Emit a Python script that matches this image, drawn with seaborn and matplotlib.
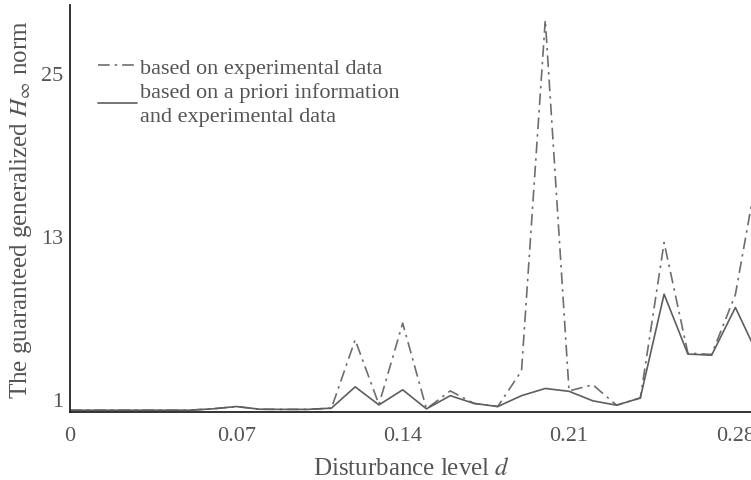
import numpy as np
import pandas as pd
import matplotlib
matplotlib.use("Agg")
import matplotlib.pyplot as plt
import seaborn as sns

# ---- data ----
d_levels = [0.00, 0.01, 0.02, 0.03, 0.04, 0.05, 0.06, 0.07, 0.08, 0.09,
            0.10, 0.11, 0.12, 0.13, 0.14, 0.15, 0.16, 0.17, 0.18, 0.19,
            0.20, 0.21, 0.22, 0.23, 0.24, 0.25, 0.26, 0.27, 0.28, 0.29]
norm_experimental = [0.18, 0.18, 0.18, 0.18, 0.18, 0.18, 0.28, 0.45, 0.25, 0.24,
                     0.24, 0.33, 5.36, 0.60, 6.59, 0.28, 1.60, 0.68, 0.45, 3.08,
                     28.9, 1.60, 2.05, 0.55, 1.08, 12.52, 4.38, 4.28, 8.69, 18.45]
norm_apriori = [0.18, 0.18, 0.18, 0.18, 0.18, 0.18, 0.28, 0.45, 0.25, 0.24,
                0.24, 0.33, 1.90, 0.57, 1.68, 0.28, 1.25, 0.68, 0.45, 1.25,
                1.78, 1.57, 0.87, 0.55, 1.08, 8.72, 4.31, 4.23, 7.74, 4.04]
series_labels = ["based on experimental data",
                 "based on a priori information\nand experimental data"]
x_ticks = [0, 0.07, 0.14, 0.21, 0.28]
x_tick_labels = ["0", "0.07", "0.14", "0.21", "0.28"]
y_ticks = [1, 13, 25]

df = pd.DataFrame({
    "d": d_levels * 2,
    "norm": norm_experimental + norm_apriori,
    "series": [series_labels[0]] * len(d_levels) + [series_labels[1]] * len(d_levels),
})

sns.set_theme(style="white")
plt.rcParams["font.family"] = ["Liberation Serif", "DejaVu Serif"]
plt.rcParams["mathtext.fontset"] = "stix"

text_col = "#555555"
fig = plt.figure(figsize=(7.51, 4.81), dpi=100)
ax = fig.add_axes([70 / 751, 1 - 412.7 / 481, 1 - 70 / 751 + 0.002, (412.7 - 6) / 481])

sns.lineplot(data=df, x="d", y="norm", hue="series", style="series",
             palette={series_labels[0]: "#6e6e6e", series_labels[1]: "#5e5e5e"},
             dashes={series_labels[0]: (7, 3, 1.5, 3), series_labels[1]: ""},
             linewidth=1.2, ax=ax, legend=True)

ax.set_xlim(0, 0.2872)
ax.set_ylim(0.07, 30.0)
ax.set_xticks(x_ticks)
ax.set_xticklabels(x_tick_labels)
ax.set_yticks(y_ticks)

for s in ["top", "right"]:
    ax.spines[s].set_visible(False)
for s in ["left", "bottom"]:
    ax.spines[s].set_color("#222222")
    ax.spines[s].set_linewidth(1.3)

ax.tick_params(axis="both", direction="in", length=6, width=1.0, color="#333333",
               labelsize=16, labelcolor=text_col)
ax.tick_params(axis="x", pad=10)
ax.tick_params(axis="y", pad=5)

ax.set_xlabel("Disturbance level $d$", fontsize=18, color=text_col, labelpad=9)
ax.set_ylabel("The guaranteed generalized $H_\\infty$ norm", fontsize=18, color=text_col, labelpad=5)

leg = ax.legend(loc="upper left", bbox_to_anchor=(0.041, 0.872), frameon=False,
                fontsize=16, handlelength=1.75, handletextpad=0.15, labelspacing=0.2,
                borderaxespad=0.0, borderpad=0.0)
for t in leg.get_texts():
    t.set_color(text_col)
    t.set_linespacing(1.35)

fig.savefig("out.png", dpi=100)
